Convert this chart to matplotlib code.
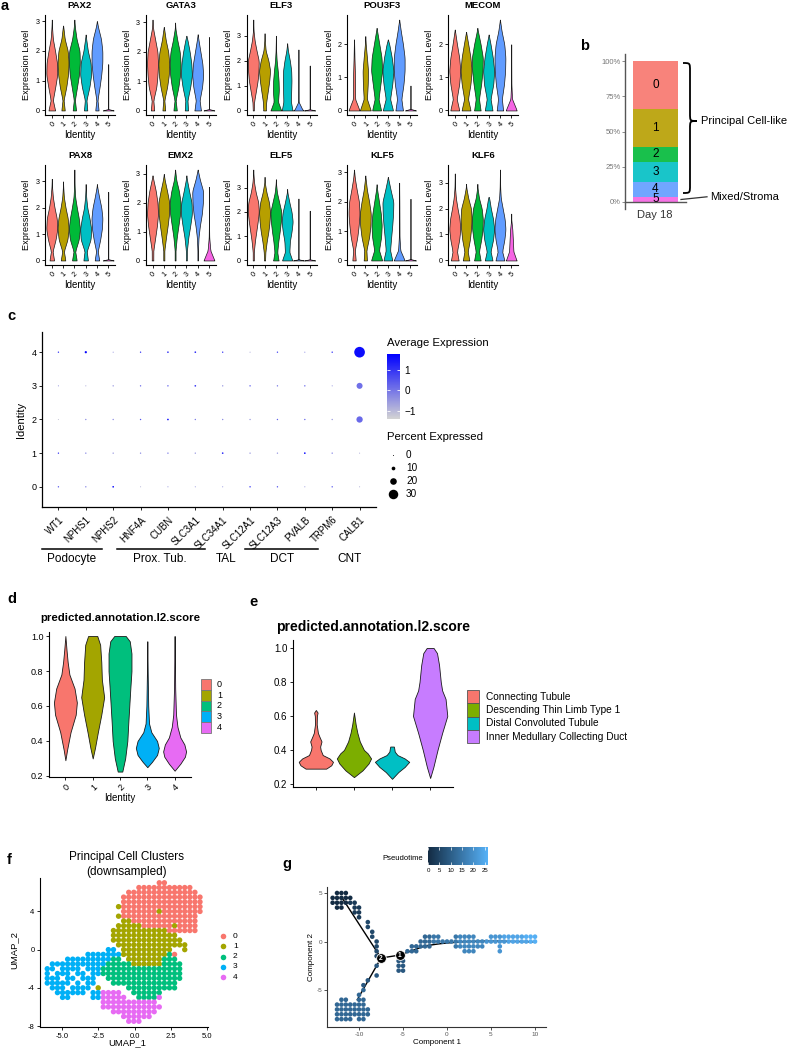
import numpy as np
import matplotlib
matplotlib.use("Agg")
import matplotlib.pyplot as plt
from matplotlib.colors import LinearSegmentedColormap, Normalize
from matplotlib.colorbar import ColorbarBase
from matplotlib.path import Path
from matplotlib.patches import PathPatch, Rectangle

plt.rcParams['font.family'] = ['Liberation Sans', 'DejaVu Sans']
plt.rcParams['axes.unicode_minus'] = False

# ======================= DATA =======================
# ---- panel a: violin outlines (relative widths at fixed expression levels) ----
CLUSTERS_A = ["0", "1", "2", "3", "4", "5"]
LEVELS_A = [0.0, 0.05, 0.35, 0.8, 1.2, 1.6, 2.0, 2.4, 2.8, 3.2, 3.6]
GENES_ROW1 = ["PAX2", "GATA3", "ELF3", "POU3F3", "MECOM"]
GENES_ROW2 = ["PAX8", "EMX2", "ELF5", "KLF5", "KLF6"]

PAX2_TOP = [3.05, 2.85, 3.05, 2.55, 3.0, 1.55]
PAX2_W = [[0.6, 0.55, 0.2, 0.65, 1.0, 0.95, 0.6, 0.2, 0.05],
          [0.3, 0.28, 0.1, 0.6, 0.9, 1.0, 0.85, 0.3, 0.05],
          [0.3, 0.28, 0.1, 0.5, 0.85, 1.0, 0.95, 0.4, 0.1],
          [0.3, 0.28, 0.15, 0.7, 1.0, 0.9, 0.4, 0.1],
          [0.3, 0.28, 0.1, 0.5, 0.8, 1.0, 1.0, 0.75, 0.2],
          [1.0, 0.0]]
GATA3_TOP = [3.1, 2.85, 3.0, 2.55, 2.6, 2.5]
GATA3_W = [[0.3, 0.28, 0.15, 0.7, 0.9, 1.0, 0.9, 0.5, 0.1],
           [0.25, 0.23, 0.1, 0.6, 0.9, 1.0, 0.8, 0.35, 0.05],
           [0.3, 0.28, 0.1, 0.6, 0.9, 1.0, 0.85, 0.4, 0.05],
           [0.3, 0.28, 0.2, 0.7, 1.0, 0.9, 0.6, 0.2],
           [0.6, 0.55, 0.35, 0.8, 1.0, 0.85, 0.5, 0.15],
           [1.0, 0.0]]
ELF3_TOP = [3.65, 3.1, 3.0, 2.7, 2.45, 1.8]
ELF3_W = [[0.1, 0.1, 0.15, 0.5, 0.8, 0.95, 1.0, 0.6, 0.25, 0.05],
          [0.25, 0.23, 0.3, 0.6, 0.85, 1.0, 0.7, 0.2, 0.05],
          [1.0, 0.9, 0.4, 0.55, 0.5, 0.35, 0.15, 0.05, 0.01],
          [1.0, 0.95, 0.7, 0.75, 0.8, 0.75, 0.5, 0.15],
          [1.0, 0.7, 0.03, 0.01, 0.01, 0.01, 0.01, 0.01],
          [1.0, 0.0]]
POU3F3_TOP = [2.15, 2.25, 2.5, 2.15, 2.75, 0.75]
POU3F3_W = [[1.0, 0.9, 0.2, 0.2, 0.15, 0.08, 0.03],
            [1.0, 0.9, 0.3, 0.45, 0.5, 0.3, 0.08],
            [0.8, 0.75, 0.35, 0.7, 1.0, 0.9, 0.5, 0.1],
            [0.9, 0.85, 0.4, 0.8, 1.0, 0.7, 0.25],
            [0.7, 0.65, 0.4, 0.8, 1.0, 1.0, 0.7, 0.3, 0.05],
            [1.0, 0.0]]
MECOM_TOP = [2.45, 2.38, 2.5, 2.3, 2.75, 2.0]
MECOM_W = [[0.8, 0.75, 0.35, 0.8, 1.0, 0.8, 0.4, 0.05],
           [0.8, 0.75, 0.35, 0.8, 1.0, 0.8, 0.4, 0.05],
           [0.6, 0.55, 0.3, 0.7, 0.95, 1.0, 0.6, 0.1],
           [0.7, 0.65, 0.35, 0.85, 1.0, 0.75, 0.35, 0.02],
           [0.6, 0.55, 0.35, 0.75, 0.95, 1.0, 0.8, 0.3, 0.05],
           [1.0, 0.9, 0.15, 0.03, 0.02, 0.01, 0.01]]
PAX8_TOP = [3.1, 3.0, 3.45, 2.9, 2.9, 2.6]
PAX8_W = [[0.4, 0.38, 0.15, 0.7, 1.0, 0.9, 0.5, 0.2, 0.05, 0.01],
          [0.4, 0.38, 0.15, 0.8, 1.0, 0.85, 0.45, 0.15, 0.03],
          [0.4, 0.38, 0.15, 0.8, 1.0, 0.8, 0.45, 0.15, 0.05, 0.01],
          [0.4, 0.38, 0.2, 0.9, 1.0, 0.7, 0.3, 0.1, 0.01],
          [0.4, 0.38, 0.15, 0.6, 0.9, 1.0, 0.8, 0.4, 0.05],
          [1.0, 0.0]]
EMX2_TOP = [2.95, 3.0, 3.15, 2.95, 3.15, 2.55]
EMX2_W = [[0.15, 0.14, 0.15, 0.5, 0.8, 1.0, 0.9, 0.6, 0.15],
          [0.1, 0.1, 0.1, 0.4, 0.7, 0.95, 1.0, 0.6, 0.15],
          [0.08, 0.08, 0.08, 0.3, 0.6, 0.9, 1.0, 0.7, 0.2, 0.02],
          [0.08, 0.08, 0.1, 0.35, 0.7, 1.0, 0.95, 0.5, 0.1],
          [0.05, 0.05, 0.05, 0.15, 0.4, 0.75, 0.95, 1.0, 0.4, 0.05],
          [1.0, 0.9, 0.25, 0.05, 0.02, 0.02, 0.01, 0.01]]
ELF5_TOP = [3.75, 3.45, 3.35, 2.95, 2.55, 2.05]
ELF5_W = [[0.1, 0.1, 0.1, 0.3, 0.55, 0.8, 1.0, 0.9, 0.45, 0.15, 0.02],
          [0.1, 0.1, 0.15, 0.4, 0.7, 0.9, 1.0, 0.8, 0.35, 0.05],
          [0.5, 0.45, 0.25, 0.45, 0.7, 0.9, 1.0, 0.6, 0.2, 0.02],
          [0.9, 0.85, 0.4, 0.5, 0.8, 1.0, 0.8, 0.4, 0.05],
          [1.0, 0.0],
          [1.0, 0.0]]
KLF5_TOP = [3.1, 2.9, 2.6, 2.85, 2.65, 2.1]
KLF5_W = [[0.3, 0.28, 0.15, 0.6, 0.85, 1.0, 0.9, 0.5, 0.15, 0.01],
          [0.3, 0.28, 0.2, 0.7, 0.95, 1.0, 0.7, 0.3, 0.05],
          [0.9, 0.85, 0.4, 0.75, 0.85, 0.7, 0.4, 0.1],
          [0.8, 0.75, 0.4, 0.6, 0.8, 0.95, 1.0, 0.5, 0.05],
          [1.0, 0.9, 0.2, 0.06, 0.05, 0.04, 0.03, 0.01],
          [1.0, 0.0]]
KLF6_TOP = [3.35, 2.95, 2.95, 2.45, 3.5, 1.8]
KLF6_W = [[0.7, 0.65, 0.4, 0.8, 1.0, 0.85, 0.5, 0.2, 0.05, 0.01],
          [0.6, 0.55, 0.3, 0.7, 0.9, 1.0, 0.9, 0.4, 0.05],
          [0.6, 0.55, 0.3, 0.7, 0.95, 1.0, 0.8, 0.3, 0.03],
          [0.7, 0.65, 0.35, 0.8, 1.0, 0.8, 0.4, 0.1],
          [0.8, 0.75, 0.4, 0.8, 1.0, 0.85, 0.5, 0.15, 0.05, 0.02],
          [1.0, 0.9, 0.4, 0.3, 0.2]]

# ---- panel b: cluster composition (%) ----
B_CLUSTERS = ["0", "1", "2", "3", "4", "5"]
B_PCT = [34.0, 27.0, 10.6, 14.2, 10.6, 3.6]
B_TICKS = [0, 25, 50, 75, 100]

# ---- panel c: dot plot ----
C_GENES = ["WT1", "NPHS1", "NPHS2", "HNF4A", "CUBN", "SLC3A1", "SLC34A1",
           "SLC12A1", "SLC12A3", "PVALB", "TRPM6", "CALB1"]
C_IDENT = [0, 1, 2, 3, 4]
C_AVG = [[0.5, -0.2, 1.6, -1.0, -0.5, -0.6, -0.5, 1.2, 0.6, -0.6, 0.5, -0.9],
         [1.0, -0.2, -0.5, -0.3, 0.0, -0.5, 1.2, -0.5, -0.5, 1.7, -0.2, -0.9],
         [-1.2, -0.3, -0.3, 0.5, 1.6, 0.0, -0.3, -0.5, 0.3, 0.3, -0.5, 0.2],
         [-0.5, -0.8, -0.5, 0.2, 0.5, 1.0, -0.5, 0.5, 0.0, 0.3, -0.5, 0.1],
         [1.0, 1.7, -0.5, 1.0, 1.0, 1.2, 1.0, -0.8, 0.8, -0.3, 1.2, 1.6]]
C_PCT = [[2, 2, 3, 1, 1, 1, 1, 2, 2, 1, 2, 1],
         [2, 2, 2, 2, 2, 2, 3, 2, 2, 3, 2, 1],
         [1, 2, 2, 2, 3, 2, 2, 2, 2, 2, 2, 19],
         [1, 1, 2, 2, 2, 3, 2, 2, 2, 2, 1, 18],
         [2, 5, 1, 2, 3, 3, 2, 1, 2, 1, 2, 34]]
C_GROUPS = ["Podocyte", "Prox. Tub.", "TAL", "DCT", "CNT"]
C_LEGEND_PCT = [0, 10, 20, 30]

# ---- panel d: prediction score violins by identity ----
D_IDENT = ["0", "1", "2", "3", "4"]
D_Y = [[0.29, 0.35, 0.45, 0.55, 0.62, 0.7, 0.78, 0.85, 0.92, 1.0],
       [0.30, 0.36, 0.45, 0.55, 0.65, 0.75, 0.85, 0.95, 1.0],
       [0.225, 0.3, 0.4, 0.5, 0.6, 0.7, 0.8, 0.9, 0.97, 1.0],
       [0.25, 0.28, 0.32, 0.36, 0.40, 0.45, 0.5, 0.6, 0.8, 0.97],
       [0.23, 0.27, 0.31, 0.34, 0.38, 0.42, 0.48, 0.55, 0.7, 0.9, 1.0]]
D_W = [[0.0, 0.15, 0.45, 0.9, 1.0, 0.8, 0.35, 0.2, 0.1, 0.0],
       [0.0, 0.2, 0.45, 0.75, 1.0, 0.8, 0.75, 0.65, 0.4],
       [0.2, 0.45, 0.64, 0.72, 0.81, 0.9, 1.0, 1.0, 0.85, 0.5],
       [0.0, 0.4, 0.85, 1.0, 0.85, 0.35, 0.15, 0.08, 0.03, 0.0],
       [0.0, 0.5, 0.9, 1.0, 0.85, 0.5, 0.25, 0.12, 0.05, 0.02, 0.0]]

# ---- panel e: prediction score violins by predicted type ----
E_TYPES = ["Connecting Tubule", "Descending Thin Limb Type 1",
           "Distal Convoluted Tubule", "Inner Medullary Collecting Duct"]
E_Y = [[0.29, 0.31, 0.33, 0.35, 0.37, 0.40, 0.42, 0.45, 0.48, 0.5, 0.55, 0.6, 0.62, 0.635],
       [0.24, 0.28, 0.32, 0.35, 0.38, 0.40, 0.45, 0.5, 0.55, 0.62],
       [0.23, 0.27, 0.30, 0.33, 0.35, 0.37, 0.39, 0.41, 0.42],
       [0.235, 0.3, 0.4, 0.5, 0.6, 0.7, 0.75, 0.8, 0.9, 0.97, 1.0]]
E_W = [[0.6, 0.9, 1.0, 0.8, 0.4, 0.28, 0.25, 0.33, 0.2, 0.12, 0.05, 0.06, 0.1, 0.0],
       [0.0, 0.5, 0.85, 1.0, 0.8, 0.58, 0.34, 0.2, 0.1, 0.0],
       [0.0, 0.35, 0.7, 0.95, 0.7, 0.3, 0.15, 0.12, 0.1],
       [0.0, 0.19, 0.43, 0.7, 1.0, 0.9, 0.7, 0.62, 0.52, 0.4, 0.2]]

# ---- panel f: UMAP occupancy map (rows y=7.0 .. -7.5 step 0.5; cols x=-6.0 step 0.35) ----
F_X0, F_DX, F_Y0, F_DY = -6.0, 0.35, 7.0, -0.5
F_MAP = [
    "......................00",
    "..................00000000000",
    "................00000000000000",
    "...............0000000000000000",
    "...............0000000000000000",
    "..............10000000000000000",
    "...............0000000100000000",
    "..............1000000000000000",
    "...............110000000000000",
    "..............1111100000010000",
    ".............11111111111000000",
    ".............1111111111111",
    ".............11111111111111",
    "..............11111111111111",
    "............33.1111111111..1",
    "........333333311111111120",
    "....33333333322.1111111222",
    ".33333333333222221111112222",
    "33.3333.3332222222222222222",
    "3.333.33.332222222222222222",
    "333.33.333..222222222222222",
    "33333.3.33...2222222222222",
    ".333.3333.1.....2222222222",
    "..333333.334444..222222",
    "...33....3344444..22224",
    "...........44444444444",
    "...........444444444444",
    ".............444444444",
    "...............444444",
    "................444",
]
F_CLUSTERS = ["0", "1", "2", "3", "4"]

# ---- panel g: pseudotime trajectory map (rows y=5.0 .. -8.0 step 0.5; cols x=-13 step 0.5) ----
G_X0, G_DX, G_Y0, G_DY = -13.0, 0.5, 5.0, -0.5
G_MAP = [
    ".000",
    "00000",
    "000011",
    ".00..11",
    ".....11",
    "......1",
    "........2",
    "........2",
    ".........2",
    ".........2...........4455...56666...77788888999",
    "..........2.........444555555666666777778888899",
    "..........2.......44444.....5666666...7",
    "..........2......444..........666.....7",
    "..........2",
    "...............33",
    "..........3....33",
    "...............33",
    "..........3",
    "........3",
    ".......3",
    ".......4",
    "......4",
    "..44..44",
    ".4444444",
    ".44444444",
    ".44444444",
    ".4444.44",
]
PT_LEVELS = [0, 3, 6, 9, 12, 15, 18, 21, 24, 26]
TREE_BRANCH_X = [[-12.0, -7.5], [-7.5, -10.2], [-7.5, -5.4, -4.0, -2.5, -1.0, 0.0, 2.0, 4.0, 6.0, 8.0, 10.0]]
TREE_BRANCH_Y = [[4.6, -1.7], [-1.7, -6.0], [-1.7, -1.4, -0.95, -0.45, -0.25, -0.15, -0.02, 0.05, 0.05, 0.0, -0.05]]
NODE_X = [-5.4, -7.5]
NODE_Y = [-1.4, -1.7]
NODE_LABELS = ["1", "2"]
PT_TICKS = [0, 5, 10, 15, 20, 25]

# ======================= STYLE / LAYOUT =======================
HUE6 = ["#F8766D", "#B79F00", "#00BA38", "#00BFC4", "#619CFF", "#F564E3"]
HUE5 = ["#F8766D", "#A3A500", "#00BF7D", "#00B0F6", "#E76BF3"]
HUE4 = ["#F8766D", "#7CAE00", "#00BFC4", "#C77CFF"]

W, H = 788, 1050
fig = plt.figure(figsize=(W / 100, H / 100), dpi=100)

ov = fig.add_axes([0, 0, 1, 1], zorder=20)
ov.set_xlim(0, W)
ov.set_ylim(H, 0)
ov.axis('off')
ov.patch.set_alpha(0)


def add_ax(l, t, r, b, **kw):
    return fig.add_axes([l / W, 1 - b / H, (r - l) / W, (b - t) / H], **kw)


def style_axes(ax, lw=0.8, color='black', tl=2.5, ls=5.2, lc='black'):
    for s in ['top', 'right']:
        ax.spines[s].set_visible(False)
    for s in ['left', 'bottom']:
        ax.spines[s].set_linewidth(lw)
        ax.spines[s].set_color(color)
    ax.tick_params(length=tl, width=0.6, color=color, labelsize=ls, labelcolor=lc, pad=1.5)
    ax.patch.set_alpha(0)


def violin(ax, xc, ys, ws, color, half=0.45, lw=0.5, smooth_from=None):
    ys = np.asarray(ys, float)
    ws = np.asarray(ws, float)
    if smooth_from is not None:
        yy = np.linspace(ys[0], ys[-1], 240)
        ww = np.interp(yy, ys, ws)
        k = 15
        sm = np.convolve(np.pad(ww, k // 2, mode='edge'), np.ones(k) / k, mode='valid')
        mask = yy >= smooth_from
        ww[mask] = sm[mask]
        ww[-1] = ws[-1]
        ys, ws = yy, ww
    ws = ws / ws.max() * half
    ax.fill_betweenx(ys, xc - ws, xc + ws, facecolor=color,
                     edgecolor='#1a1a1a', linewidth=lw, zorder=2)


def T(x, y, s, **kw):
    ov.text(x, y, s, **kw)


# panel letters
for lab, (x, y) in {"a": (1, 6), "b": (580, 46), "c": (7, 316), "d": (7, 599),
                    "e": (249, 602), "f": (7, 860), "g": (282, 864)}.items():
    T(x, y, lab, fontsize=10.5, fontweight='bold', ha='left', va='center')

# ======================= PANEL A =======================
A_TABLE = [(GENES_ROW1[0], PAX2_TOP, PAX2_W), (GENES_ROW1[1], GATA3_TOP, GATA3_W),
           (GENES_ROW1[2], ELF3_TOP, ELF3_W), (GENES_ROW1[3], POU3F3_TOP, POU3F3_W),
           (GENES_ROW1[4], MECOM_TOP, MECOM_W),
           (GENES_ROW2[0], PAX8_TOP, PAX8_W), (GENES_ROW2[1], EMX2_TOP, EMX2_W),
           (GENES_ROW2[2], ELF5_TOP, ELF5_W), (GENES_ROW2[3], KLF5_TOP, KLF5_W),
           (GENES_ROW2[4], KLF6_TOP, KLF6_W)]
for k, (gene, tops, widths) in enumerate(A_TABLE):
    row, col = divmod(k, 5)
    left = 45 + 100.75 * col
    top = 15 if row == 0 else 165
    ax = add_ax(left, top, left + 70, top + 100)
    style_axes(ax)
    for i, (t, w) in enumerate(zip(tops, widths)):
        lv = [l for l in LEVELS_A if l < t]
        wv = (list(w) + [0.0] * len(LEVELS_A))[:len(lv)]
        violin(ax, i, lv + [t], wv + [0.0], HUE6[i], half=0.48, lw=0.5, smooth_from=0.35)
    ymax = max(tops)
    ax.set_xlim(-0.6, 5.6)
    ax.set_ylim(-0.05 * ymax, 1.05 * ymax)
    ax.set_yticks(list(range(0, int(np.floor(ymax)) + 1)))
    ax.set_xticks(range(6))
    ax.set_xticklabels(CLUSTERS_A, rotation=45, ha='right', rotation_mode='anchor')
    T(left + 35, top - 10, gene, fontsize=6.8, fontweight='bold', ha='center', va='center')
    T(left - 18, top + 50, "Expression Level", fontsize=6.6, rotation=90, ha='center', va='center')
    T(left + 35, top + 120, "Identity", fontsize=7, ha='center', va='center')

# ======================= PANEL B =======================
axb = add_ax(625, 54, 686, 209)
for s in ['top', 'right']:
    axb.spines[s].set_visible(False)
axb.spines['left'].set_color('#555555')
axb.spines['left'].set_linewidth(1.0)
axb.spines['bottom'].set_position(('data', 0))
axb.spines['bottom'].set_color('#555555')
axb.spines['bottom'].set_linewidth(1.0)
axb.patch.set_alpha(0)
base = 0.0
for i in reversed(range(len(B_PCT))):
    axb.bar(1, B_PCT[i], bottom=base, width=0.9, color=HUE6[i], alpha=0.9, linewidth=0, zorder=2)
    axb.text(1, base + B_PCT[i] / 2, B_CLUSTERS[i], ha='center', va='center', fontsize=8.5, zorder=3)
    base += B_PCT[i]
axb.set_xlim(0.4, 1.6)
axb.set_ylim(-5, 105)
axb.set_xticks([])
axb.set_yticks(B_TICKS)
axb.set_yticklabels([f"{v}%" for v in B_TICKS])
axb.tick_params(axis='y', length=2, width=0.6, color='#777777', labelsize=5.5,
                labelcolor='#777777', pad=1)
T(655, 215, "Day 18", fontsize=8, color='#333333', ha='center', va='center')


def brace(x0, y0, y1, ym, d=14, r=8):
    xs, xt = x0 + d / 2, x0 + d
    verts = [(x0, y0), (xs, y0), (xs, y0), (xs, y0 + r), (xs, ym - r),
             (xs, ym), (xs, ym), (xt, ym),
             (xs, ym), (xs, ym), (xs, ym + r), (xs, y1 - r),
             (xs, y1), (xs, y1), (x0, y1)]
    codes = [Path.MOVETO, Path.CURVE4, Path.CURVE4, Path.CURVE4, Path.LINETO,
             Path.CURVE4, Path.CURVE4, Path.CURVE4,
             Path.CURVE4, Path.CURVE4, Path.CURVE4, Path.LINETO,
             Path.CURVE4, Path.CURVE4, Path.CURVE4]
    ov.add_patch(PathPatch(Path(verts, codes), fill=False, lw=1.3, color='black'))


brace(683, 63, 193, 121)
T(701, 121, "Principal Cell-like", fontsize=8, ha='left', va='center')
ov.plot([681, 707], [199.5, 196.8], color='#333333', lw=0.9)
T(710, 197, "Mixed/Stroma", fontsize=8, ha='left', va='center')

# ======================= PANEL C =======================
axc = add_ax(42, 332, 376, 507)
style_axes(axc, lw=0.9, ls=6.5, tl=2.5)
cmap_c = LinearSegmentedColormap.from_list('cexp', ['#D3D3D3', '#0000FF'])
norm_c = Normalize(-1.4, 1.78)
gx, gy = np.meshgrid(np.arange(len(C_GENES)), C_IDENT)
pct = np.asarray(C_PCT, float)
sizes = ((0.8 + 0.29 * pct) * 0.72) ** 2
axc.scatter(gx.ravel(), gy.ravel(), s=sizes.ravel(), c=np.asarray(C_AVG).ravel(),
            cmap=cmap_c, norm=norm_c, linewidths=0, zorder=3)
axc.set_xlim(-0.6, len(C_GENES) - 0.4)
axc.set_ylim(-0.6, 4.6)
axc.set_yticks(C_IDENT)
axc.set_xticks(range(len(C_GENES)))
axc.set_xticklabels(C_GENES, rotation=45, ha='right', rotation_mode='anchor', fontsize=7)
axc.tick_params(axis='x', pad=3)
T(21, 420, "Identity", fontsize=8, rotation=90, ha='center', va='center')
for (x0, x1) in [(42, 102), (117, 205), (245, 318)]:
    ov.plot([x0, x1], [549, 549], color='black', lw=1.1)
for name, x in zip(C_GROUPS, [72, 160, 226, 282, 350]):
    T(x, 559, name, fontsize=8.5, ha='center', va='center')
# legend
T(387, 343, "Average Expression", fontsize=8.2, ha='left', va='center')
axcb = add_ax(387, 354, 400, 419)
cb = ColorbarBase(axcb, cmap=cmap_c, norm=norm_c, orientation='vertical')
cb.outline.set_visible(False)
cb.set_ticks([-1, 0, 1])
cb.set_ticklabels(["\u22121", "0", "1"])
axcb.tick_params(axis='y', which='both', direction='in', color='white', width=0.6, length=2.5,
                 labelsize=7.2, pad=3, left=True, right=True)
T(387, 437, "Percent Expressed", fontsize=8.2, ha='left', va='center')
for j, p in enumerate(C_LEGEND_PCT):
    yy = 455 + 13 * j
    ov.scatter([393], [yy], s=((0.8 + 0.29 * p) * 0.72) ** 2, color='black', linewidths=0)
    T(406, yy, str(p), fontsize=7.2, ha='left', va='center')

# ======================= PANEL D =======================
axd = add_ax(49, 632, 191, 777)
style_axes(axd, ls=6.5)
for i in range(len(D_IDENT)):
    violin(axd, i, D_Y[i], D_W[i], HUE5[i], half=0.42, lw=0.6)
axd.set_xlim(-0.6, 4.6)
axd.set_ylim(0.194, 1.023)
axd.set_yticks([0.2, 0.4, 0.6, 0.8, 1.0])
axd.set_yticklabels(["0.2", "0.4", "0.6", "0.8", "1.0"])
axd.set_xticks(range(5))
axd.set_xticklabels(D_IDENT, rotation=45, ha='right', rotation_mode='anchor')
T(120, 618, "predicted.annotation.l2.score", fontsize=8.2, fontweight='bold', ha='center', va='center')
T(120, 798, "Identity", fontsize=7, ha='center', va='center')
for i, lab in enumerate(D_IDENT):
    yy = 679 + 10.8 * i
    ov.add_patch(Rectangle((201, yy), 10, 10.8, facecolor=HUE5[i], edgecolor='#777777', lw=0.6))
    T(217, yy + 5.4, lab, fontsize=6.5, ha='left', va='center')

# ======================= PANEL E =======================
axe = add_ax(293, 640, 453, 787)
style_axes(axe, ls=7)
for i in range(len(E_TYPES)):
    violin(axe, i, E_Y[i], E_W[i], HUE4[i], half=0.45, lw=0.6)
axe.set_xlim(-0.6, 3.6)
axe.set_ylim(0.182, 1.047)
axe.set_yticks([0.2, 0.4, 0.6, 0.8, 1.0])
axe.set_yticklabels(["0.2", "0.4", "0.6", "0.8", "1.0"])
axe.set_xticks(range(4))
axe.set_xticklabels([])
T(373, 627, "predicted.annotation.l2.score", fontsize=10, fontweight='bold', ha='center', va='center')
for i, lab in enumerate(E_TYPES):
    yy = 690 + 13.3 * i
    ov.add_patch(Rectangle((467, yy), 12, 13.3, facecolor=HUE4[i], edgecolor='#555555', lw=0.6))
    T(486, yy + 6.7, lab, fontsize=7.3, ha='left', va='center')

# ======================= PANEL F =======================
axf = add_ax(40, 878, 208, 1027)
style_axes(axf, ls=5.5)
fx, fy, fc = [], [], []
for r, line in enumerate(F_MAP):
    for cidx, ch in enumerate(line):
        if ch in F_CLUSTERS:
            fx.append(F_X0 + F_DX * cidx)
            fy.append(F_Y0 + F_DY * r)
            fc.append(HUE5[F_CLUSTERS.index(ch)])
axf.scatter(fx, fy, s=15, c=fc, linewidths=0, zorder=3)
axf.set_xlim(-6.5, 5.05)
axf.set_ylim(-8.1, 7.5)
axf.set_xticks([-5, -2.5, 0, 2.5, 5])
axf.set_xticklabels(["-5.0", "-2.5", "0.0", "2.5", "5.0"])
axf.set_yticks([-8, -4, 0, 4])
axf.set_yticklabels(["-8", "-4", "0", "4"])
T(127, 857, "Principal Cell Clusters", fontsize=8.5, ha='center', va='center')
T(127, 872, "(downsampled)", fontsize=8.5, ha='center', va='center')
T(127, 1043, "UMAP_1", fontsize=6.8, ha='center', va='center')
T(14, 950, "UMAP_2", fontsize=6.8, rotation=90, ha='center', va='center')
for i, lab in enumerate(F_CLUSTERS):
    yy = 936 + 10.3 * i
    ov.scatter([223], [yy], s=16, color=HUE5[i], linewidths=0)
    T(233, yy, lab, fontsize=6, ha='left', va='center')

# ======================= PANEL G =======================
axg = add_ax(327, 887, 546, 1027)
style_axes(axg, color='#333333', ls=4.6, lc='#555555', tl=2)
cmap_g = LinearSegmentedColormap.from_list('pt', ['#132B43', '#56B1F7'])
norm_g = Normalize(0, 26.5)
for bx, by in zip(TREE_BRANCH_X, TREE_BRANCH_Y):
    axg.plot(bx, by, color='black', lw=1.0, zorder=2)
gxs, gys, gvs = [], [], []
for r, line in enumerate(G_MAP):
    for cidx, ch in enumerate(line):
        if ch.isdigit():
            gxs.append(G_X0 + G_DX * cidx)
            gys.append(G_Y0 + G_DY * r)
            gvs.append(PT_LEVELS[int(ch)])
axg.scatter(gxs, gys, s=11, c=gvs, cmap=cmap_g, norm=norm_g, linewidths=0, zorder=3)
for nx, ny, nl in zip(NODE_X, NODE_Y, NODE_LABELS):
    axg.plot([nx], [ny], 'o', ms=7, mfc='black', mec='white', mew=0.6, zorder=4)
    axg.text(nx, ny, nl, color='white', fontsize=4.8, fontweight='bold', ha='center', va='center', zorder=5)
axg.set_xlim(-13.64, 11.25)
axg.set_ylim(-8.81, 5.62)
axg.set_xticks([-10, -5, 0, 5, 10])
axg.set_yticks([-5, 0, 5])
T(437, 1042, "Component 1", fontsize=5.8, ha='center', va='center')
T(312, 957, "Component 2", fontsize=5.8, rotation=90, ha='center', va='center')
axgc = add_ax(428, 847, 488, 865)
cbg = ColorbarBase(axgc, cmap=cmap_g, norm=norm_g, orientation='horizontal')
cbg.outline.set_visible(False)
cbg.set_ticks(PT_TICKS)
cbg.set_ticklabels([str(v) for v in PT_TICKS])
axgc.tick_params(axis='x', which='both', direction='in', color='white', width=0.5, length=2,
                 labelsize=4.4, pad=2.5, top=True, bottom=True)
T(403, 859, "Pseudotime", fontsize=5.5, ha='center', va='center')

fig.savefig("out.png", dpi=100)
